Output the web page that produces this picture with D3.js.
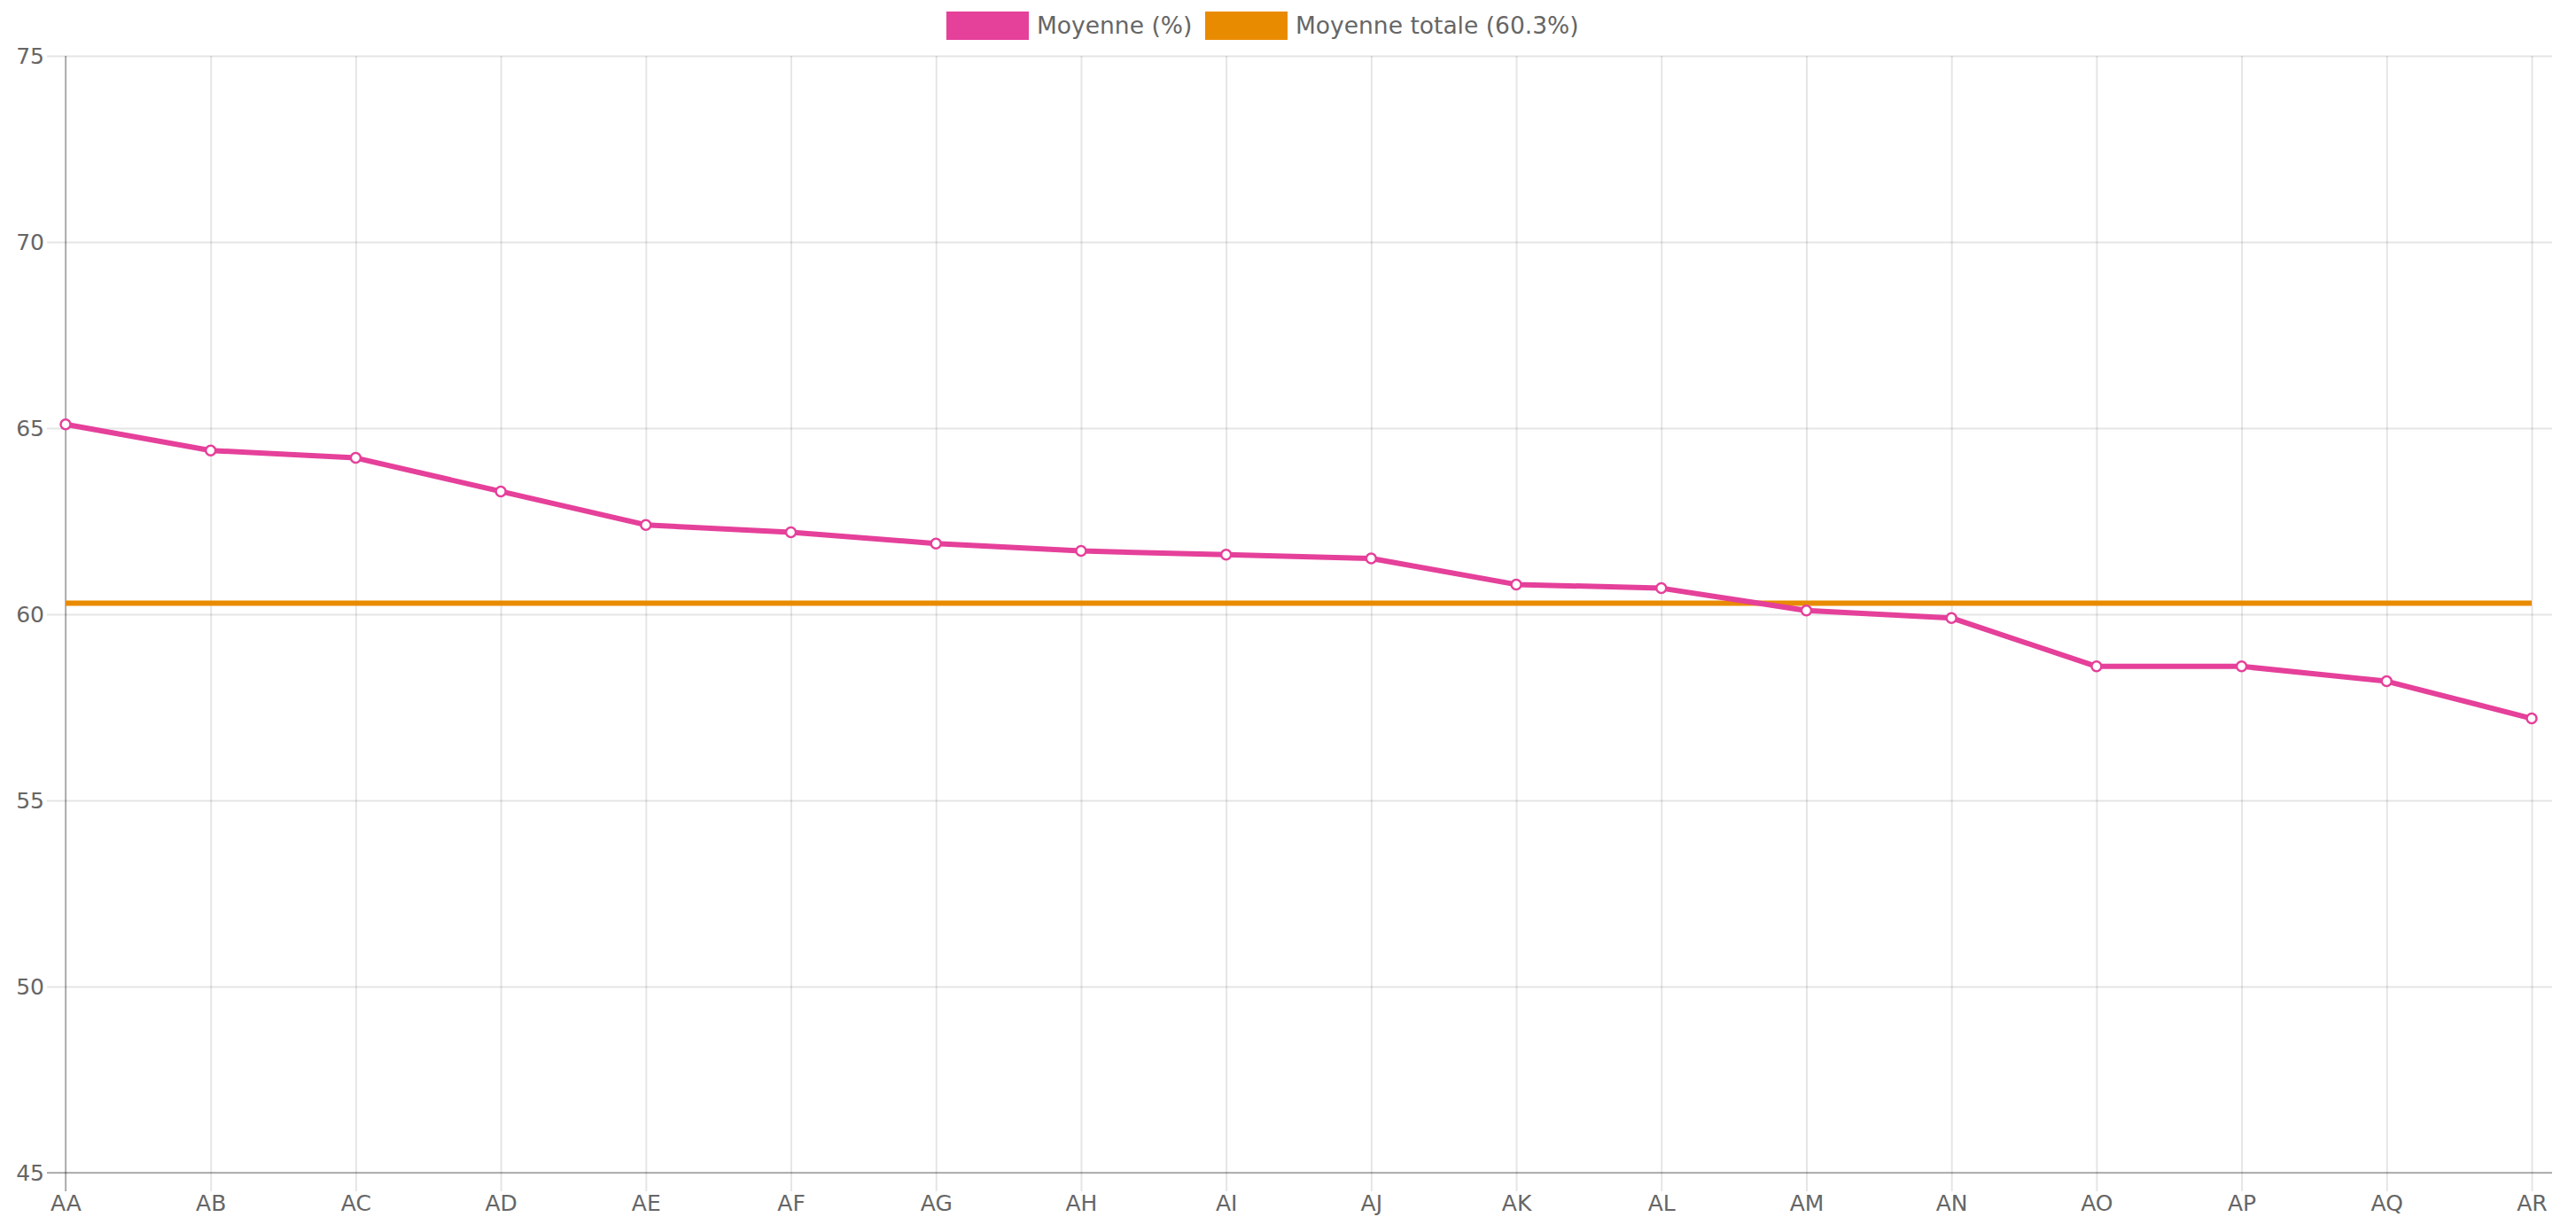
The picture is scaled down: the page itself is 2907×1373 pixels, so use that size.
<!DOCTYPE html>
<html>
<head>
<meta charset="utf-8">
<script src="https://cdn.jsdelivr.net/npm/d3@7"></script>
<style>
    body { margin: 0; background: #fff; }
    text { font-family: "DejaVu Sans", Verdana, sans-serif; fill: #666; }
</style>
</head>
<body>
<svg id="chart"></svg>
<script>
// data
const categories = ['AA', 'AB', 'AC', 'AD', 'AE', 'AF', 'AG', 'AH', 'AI', 'AJ',
    'AK', 'AL', 'AM', 'AN', 'AO', 'AP', 'AQ', 'AR'];
const moyenne = [65.1, 64.4, 64.2, 63.3, 62.4, 62.2, 61.9, 61.7, 61.6, 61.5,
    60.8, 60.7, 60.1, 59.9, 58.6, 58.6, 58.2, 57.2];
const moyenneTotale = 60.3;
const yTicks = [45, 50, 55, 60, 65, 70, 75];
const seriesNames = ['Moyenne (%)', 'Moyenne totale (60.3%)'];

const width = 2907;
const height = 1373;
const pink = '#e5409a';
const orange = '#e98b00';

const plotLeft = 74, plotRight = 2857, gridRight = 2880;
const plotTop = 63, plotBottom = 1323, tickLen = 21;

const svg = d3.select('#chart')
    .attr('width', width)
    .attr('height', height);

const x = d3.scalePoint().domain(categories).range([plotLeft, plotRight]);
const y = d3.scaleLinear().domain([45, 75]).range([plotBottom, plotTop]);

// y grid + labels
const yAxis = svg.append('g')
    .attr('transform', `translate(${plotLeft - tickLen},0)`)
    .call(d3.axisLeft(y).tickValues(yTicks).tickSizeInner(-(gridRight - plotLeft + tickLen)).tickSizeOuter(0).tickPadding(3));
yAxis.select('.domain').remove();
yAxis.selectAll('.tick line').attr('stroke', 'rgba(0,0,0,0.1)').attr('stroke-width', 2);
yAxis.selectAll('.tick text').style('font-size', '25px').attr('fill', '#666');

// x grid + labels
const xAxis = svg.append('g')
    .attr('transform', `translate(0,${plotBottom + tickLen})`)
    .call(d3.axisBottom(x).tickSizeInner(-(plotBottom + tickLen - plotTop)).tickSizeOuter(0).tickPadding(4));
xAxis.select('.domain').remove();
xAxis.selectAll('.tick line').attr('stroke', 'rgba(0,0,0,0.1)').attr('stroke-width', 2);
xAxis.selectAll('.tick text').style('font-size', '25px').attr('fill', '#666');

// axis lines
svg.append('line')
    .attr('x1', plotLeft).attr('x2', plotLeft)
    .attr('y1', plotTop).attr('y2', plotBottom + tickLen)
    .attr('stroke', 'rgba(0,0,0,0.25)').attr('stroke-width', 2);
svg.append('line')
    .attr('x1', plotLeft - tickLen).attr('x2', gridRight)
    .attr('y1', plotBottom).attr('y2', plotBottom)
    .attr('stroke', 'rgba(0,0,0,0.25)').attr('stroke-width', 2);

// moyenne totale line
const totalLine = d3.line().x(d => x(d)).y(() => y(moyenneTotale));
svg.append('path')
    .datum(categories)
    .attr('d', totalLine)
    .attr('fill', 'none')
    .attr('stroke', orange)
    .attr('stroke-width', 6);

// moyenne line
const line = d3.line().x((d, i) => x(categories[i])).y(d => y(d));
svg.append('path')
    .datum(moyenne)
    .attr('d', line)
    .attr('fill', 'none')
    .attr('stroke', pink)
    .attr('stroke-width', 6)
    .attr('stroke-linejoin', 'round');

svg.selectAll('.pt')
    .data(moyenne)
    .enter().append('circle')
    .attr('class', 'pt')
    .attr('cx', (d, i) => x(categories[i]))
    .attr('cy', d => y(d))
    .attr('r', 5.5)
    .attr('fill', '#fff')
    .attr('stroke', pink)
    .attr('stroke-width', 2.5);

// legend
const legendItems = [
    { name: seriesNames[0], color: pink, x: 1068 },
    { name: seriesNames[1], color: orange, x: 1360 }
];
const legend = svg.selectAll('.legend')
    .data(legendItems)
    .enter().append('g')
    .attr('class', 'legend')
    .attr('transform', d => `translate(${d.x},13)`);
legend.append('rect')
    .attr('width', 93)
    .attr('height', 32)
    .attr('fill', d => d.color);
legend.append('text')
    .attr('x', 102)
    .attr('y', 17)
    .attr('dominant-baseline', 'middle')
    .style('font-size', '26.5px')
    .text(d => d.name);
</script>
</body>
</html>
